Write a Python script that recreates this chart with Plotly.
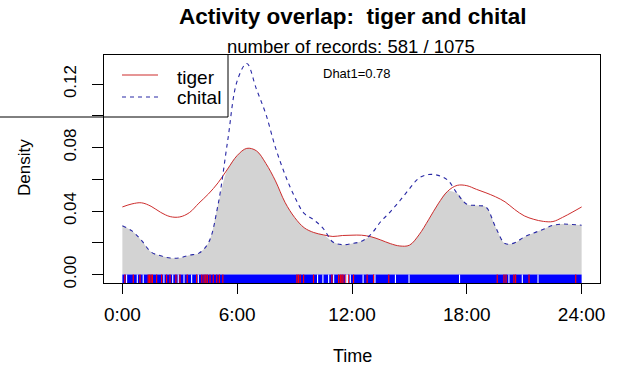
import numpy as np
import plotly.graph_objects as go

# Kernel density estimates of activity (density per hour), read on a half-hour grid
hours = [i * 0.5 for i in range(49)]
tiger_density = [
    0.0426, 0.0445, 0.0452, 0.0430, 0.0392, 0.0365, 0.0363, 0.0390, 0.0450, 0.0508,
    0.0578, 0.0665, 0.0750, 0.0795, 0.0780, 0.0700, 0.0590, 0.0455, 0.0360, 0.0295,
    0.0265, 0.0250, 0.0240, 0.0246, 0.0248, 0.0248, 0.0238, 0.0218, 0.0195, 0.0180,
    0.0185, 0.0250, 0.0345, 0.0445, 0.0525, 0.0562, 0.0560, 0.0537, 0.0515, 0.0490,
    0.0458, 0.0410, 0.0370, 0.0348, 0.0335, 0.0334, 0.0360, 0.0392, 0.0426,
]
chital_density = [
    0.0307, 0.0275, 0.0215, 0.0142, 0.0118, 0.0104, 0.0105, 0.0122, 0.0135, 0.0200,
    0.0440, 0.0840, 0.1220, 0.1330, 0.1170, 0.1010, 0.0800, 0.0630, 0.0490, 0.0385,
    0.0345, 0.0290, 0.0205, 0.0188, 0.0195, 0.0210, 0.0255, 0.0333, 0.0395, 0.0465,
    0.0540, 0.0608, 0.0630, 0.0625, 0.0595, 0.0510, 0.0443, 0.0435, 0.0425, 0.0300,
    0.0195, 0.0200, 0.0237, 0.0262, 0.0285, 0.0310, 0.0318, 0.0315, 0.0311,
]

# Rug: chital records cover the whole day densely; tiger records show through in red,
# hours with no record at all show as white gaps
chital_rug_span = [0.0, 24.0]
tiger_rug = [
    0.13, 0.57, 0.92, 1.35, 1.42, 1.50, 1.57, 1.79, 2.05, 2.31, 2.49, 2.80, 3.01,
    3.39, 3.88, 4.15, 4.27, 4.36, 4.44, 4.58, 4.75, 4.93, 5.07, 5.25,
    9.12, 9.20, 9.29, 9.47, 9.99, 10.95, 11.30, 11.39, 11.47, 11.53, 11.65, 11.82,
    12.08, 12.79, 13.13, 13.92, 19.59, 19.94, 20.05, 20.46, 20.55, 21.25, 23.69,
]
rug_gaps = [
    0.22, 0.78, 1.09, 2.17, 2.63, 2.92, 3.22, 3.62, 3.97,
    10.20, 10.48, 10.78, 11.04, 11.70, 11.77, 11.91, 12.58, 13.20, 14.27,
    14.98, 17.62, 20.20, 20.90, 21.72,
]

x_ticks = [0, 6, 12, 18, 24]
x_tick_labels = ["0:00", "6:00", "12:00", "18:00", "24:00"]
y_ticks = [0.00, 0.02, 0.04, 0.06, 0.08, 0.10, 0.12]
y_tick_labels = ["0.00", "", "0.04", "", "0.08", "", "0.12"]

dhat1 = 0.78
n_tiger, n_chital = 581, 1075

FONT = "Arial, Liberation Sans, sans-serif"
TIGER_COL = "rgb(205,45,45)"
CHITAL_COL = "rgb(40,40,165)"
y_max = max(chital_density)
Y_LO = -0.04 * y_max
Y_HI = y_max * 1.04

overlap = np.minimum(tiger_density, chital_density)

fig = go.Figure()

# shaded overlap area
fig.add_trace(go.Scatter(
    x=hours, y=overlap, mode="lines", line=dict(width=0, shape="spline"),
    fill="tozeroy", fillcolor="#d3d3d3", hoverinfo="skip", showlegend=False))

fig.add_trace(go.Scatter(
    x=hours, y=tiger_density, mode="lines",
    line=dict(color=TIGER_COL, width=1.0, shape="spline"), showlegend=False))
fig.add_trace(go.Scatter(
    x=hours, y=chital_density, mode="lines",
    line=dict(color=CHITAL_COL, width=1.1, dash="4px,4px", shape="spline"),
    showlegend=False))

# rug band
a, b = chital_rug_span
fig.add_trace(go.Scatter(
    x=[a, b, b, a, a], y=[Y_LO, Y_LO, 0, 0, Y_LO], mode="lines",
    line=dict(width=0), fill="toself", fillcolor="#0000ff",
    hoverinfo="skip", showlegend=False))


def ticks(xs):
    px, py = [], []
    for h in xs:
        px += [h, h, None]
        py += [Y_LO, 0, None]
    return px, py


tx, ty = ticks(tiger_rug)
fig.add_trace(go.Scatter(x=tx, y=ty, mode="lines",
                         line=dict(color="#ff0000", width=1.2),
                         hoverinfo="skip", showlegend=False))
gx, gy = ticks(rug_gaps)
fig.add_trace(go.Scatter(x=gx, y=gy, mode="lines",
                         line=dict(color="#ffffff", width=1.1),
                         hoverinfo="skip", showlegend=False))

L, R, T, B = 104, 17, 55, 86
W, H = 617, 369
pw, ph = W - L - R, H - T - B


def px_x(p):
    return (p - L) / pw


def px_y(p):
    return (H - B - p) / ph


shapes = [
    # legend box (bottom and right edges)
    dict(type="line", xref="paper", yref="paper", x0=px_x(-2), x1=px_x(228),
         y0=px_y(117), y1=px_y(117), line=dict(color="black", width=1)),
    dict(type="line", xref="paper", yref="paper", x0=px_x(228), x1=px_x(228),
         y0=px_y(117), y1=1, line=dict(color="black", width=1)),
    # legend keys
    dict(type="line", xref="paper", yref="paper", x0=px_x(122), x1=px_x(158),
         y0=px_y(75), y1=px_y(75), line=dict(color=TIGER_COL, width=1.1)),
    dict(type="line", xref="paper", yref="paper", x0=px_x(122), x1=px_x(158),
         y0=px_y(97), y1=px_y(97),
         line=dict(color=CHITAL_COL, width=1.1, dash="4px,4px")),
]

annotations = [
    dict(text="<b>Activity overlap:  tiger and chital</b>", x=px_x(353), y=px_y(17),
         xref="paper", yref="paper", showarrow=False, yanchor="middle",
         font=dict(family=FONT, size=22.5, color="black")),
    dict(text=f"number of records: {n_tiger} / {n_chital}", x=px_x(351), y=px_y(46),
         xref="paper", yref="paper", showarrow=False, yanchor="middle",
         font=dict(family=FONT, size=18.5, color="black")),
    dict(text=f"Dhat1={dhat1:.2f}", x=px_x(357), y=px_y(73),
         xref="paper", yref="paper", showarrow=False, yanchor="middle",
         font=dict(family=FONT, size=13, color="black")),
    dict(text="tiger", x=px_x(175), y=px_y(77), xanchor="left", yanchor="middle",
         xref="paper", yref="paper", showarrow=False,
         font=dict(family=FONT, size=19, color="black")),
    dict(text="chital", x=px_x(175), y=px_y(97), xanchor="left", yanchor="middle",
         xref="paper", yref="paper", showarrow=False,
         font=dict(family=FONT, size=19, color="black")),
    dict(text="Time", x=px_x(352), y=px_y(356), xref="paper", yref="paper",
         showarrow=False, yanchor="middle",
         font=dict(family=FONT, size=18, color="black")),
    dict(text="Density", x=px_x(24), y=px_y(168), xref="paper", yref="paper",
         showarrow=False, textangle=-90, xanchor="center", yanchor="middle",
         font=dict(family=FONT, size=17, color="black")),
]

fig.update_layout(
    width=W, height=H,
    margin=dict(l=L, r=R, t=T, b=B),
    plot_bgcolor="white", paper_bgcolor="white",
    shapes=shapes, annotations=annotations,
    xaxis=dict(range=[-0.96, 24.96], tickvals=x_ticks, ticktext=x_tick_labels,
               showgrid=False, zeroline=False, showline=True, mirror=True,
               linecolor="black", linewidth=1, ticks="outside", ticklen=10,
               tickcolor="black", ticklabelstandoff=4,
               tickfont=dict(family=FONT, size=19, color="black")),
    yaxis=dict(range=[Y_LO, Y_HI], tickvals=y_ticks, ticktext=y_tick_labels,
               showgrid=False, zeroline=False, showline=True, mirror=True,
               linecolor="black", linewidth=1, ticks="outside", ticklen=11,
               tickcolor="black", tickangle=-90, ticklabelstandoff=9,
               tickfont=dict(family=FONT, size=17, color="black")),
)

fig.write_html("out.html")
